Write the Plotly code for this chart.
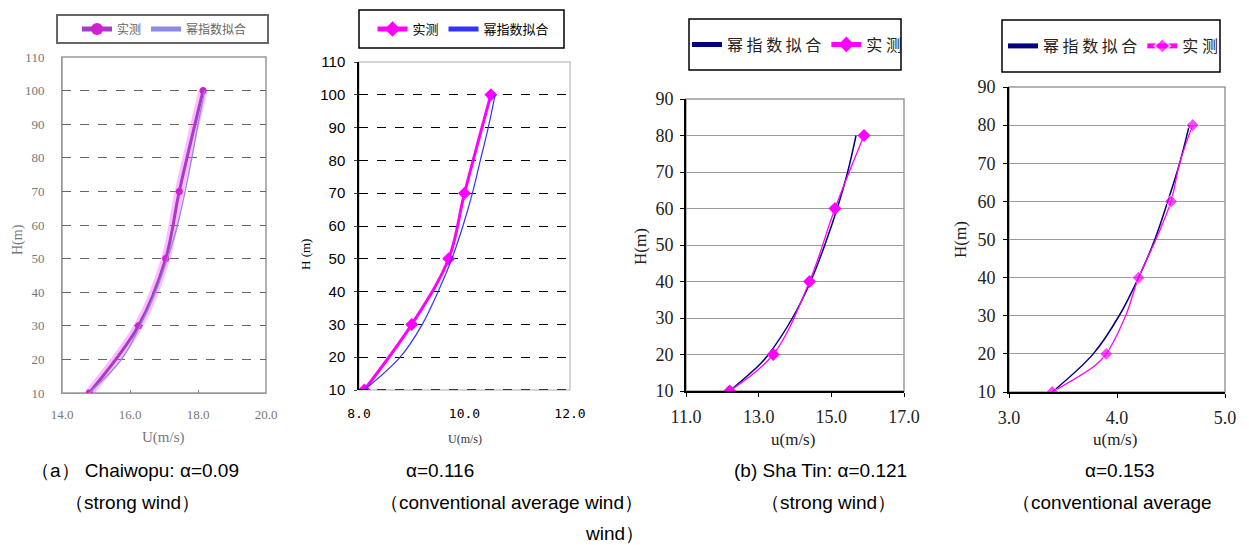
import plotly.graph_objects as go

W, H = 1249, 545

# ---------------- data ----------------
# Panel 1: Chaiwopu, strong wind
p1_h_meas = [10, 30, 50, 70, 100]
p1_u_meas = [14.8, 16.25, 17.05, 17.45, 18.15]
p1_h_fit = [10, 20, 30, 40, 50, 60, 70, 80, 90, 100]
p1_u_fit = [14.8, 15.75, 16.3, 16.75, 17.1, 17.4, 17.62, 17.82, 18.0, 18.2]

# Panel 2: Chaiwopu, conventional average wind
p2_h_meas = [10, 30, 50, 70, 100]
p2_u_meas = [8.1, 9.0, 9.7, 10.0, 10.5]
p2_h_fit = [10, 20, 30, 40, 50, 60, 70, 80, 90, 100]
p2_u_fit = [8.1, 8.78, 9.2, 9.5, 9.76, 9.97, 10.15, 10.3, 10.45, 10.58]

# Panel 3: Sha Tin, strong wind
p3_h_meas = [10, 20, 40, 60, 80]
p3_u_meas = [12.2, 13.4, 14.4, 15.1, 15.9]
p3_h_fit = [10, 17, 20, 30, 40, 50, 60, 70, 80]
p3_u_fit = [12.2, 13.0, 13.27, 13.93, 14.43, 14.82, 15.16, 15.45, 15.68]

# Panel 4: Sha Tin, conventional average wind
p4_h_meas = [10, 17, 20, 30, 40, 50, 60, 70, 80]
p4_u_meas = [3.4, 3.8, 3.9, 4.08, 4.2, 4.36, 4.5, 4.58, 4.7]
p4_mark_h = [10, 20, 40, 60, 80]
p4_h_fit = [10, 20, 30, 40, 50, 60, 70, 80]
p4_u_fit = [3.4, 3.78, 4.02, 4.2, 4.35, 4.47, 4.58, 4.67]

name_meas = "实测"
name_fit = "幂指数拟合"
name_fit_sp = "幂 指 数 拟 合"
name_meas_sp = "实 测"

captions = [
    ("（a） Chaiwopu: α=0.09", 135, 470),
    ("（strong wind）", 132, 502),
    ("α=0.116", 440, 470),
    ("（conventional average wind）", 512, 502),
    ("wind）", 614, 533),
    ("(b) Sha Tin: α=0.121", 820, 470),
    ("（strong wind）", 828, 502),
    ("α=0.153", 1120, 470),
    ("（conventional average", 1112, 502),
]

# ---------------- helpers ----------------
def px(x):
    return x / W

def py(y):
    return 1 - y / H

fig = go.Figure()

# Panel 1
fig.add_trace(go.Scatter(x=p1_u_meas, y=p1_h_meas, xaxis="x", yaxis="y", mode="lines",
                         line=dict(color="rgba(255,60,255,0.35)", width=9, shape="spline"),
                         showlegend=False, hoverinfo="skip"))
fig.add_trace(go.Scatter(x=p1_u_meas, y=p1_h_meas, xaxis="x", yaxis="y", mode="lines+markers",
                         name=name_meas, legend="legend",
                         line=dict(color="#a83cc8", width=3, shape="spline"),
                         marker=dict(symbol="circle", size=7, color="#d020d0")))
fig.add_trace(go.Scatter(x=p1_u_fit, y=p1_h_fit, xaxis="x", yaxis="y", mode="lines",
                         name=name_fit, legend="legend",
                         line=dict(color="#8a8ae8", width=1.3, shape="spline")))

# Panel 2
fig.add_trace(go.Scatter(x=p2_u_meas, y=p2_h_meas, xaxis="x2", yaxis="y2", mode="lines+markers",
                         name=name_meas, legend="legend2",
                         line=dict(color="#ff00ff", width=3, shape="spline"),
                         marker=dict(symbol="diamond", size=10, color="#ff00ff")))
fig.add_trace(go.Scatter(x=p2_u_fit, y=p2_h_fit, xaxis="x2", yaxis="y2", mode="lines",
                         name=name_fit, legend="legend2",
                         line=dict(color="#3333ff", width=1.2, shape="spline")))

# Panel 3
fig.add_trace(go.Scatter(x=p3_u_fit, y=p3_h_fit, xaxis="x3", yaxis="y3", mode="lines",
                         name=name_fit_sp, legend="legend3",
                         line=dict(color="#000080", width=1.5, shape="spline")))
fig.add_trace(go.Scatter(x=p3_u_meas, y=p3_h_meas, xaxis="x3", yaxis="y3", mode="lines+markers",
                         name=name_meas_sp, legend="legend3",
                         line=dict(color="#ff00ff", width=1.3, shape="spline"),
                         marker=dict(symbol="diamond", size=10, color="#ff00ff")))

# Panel 4
fig.add_trace(go.Scatter(x=p4_u_fit, y=p4_h_fit, xaxis="x4", yaxis="y4", mode="lines",
                         name=name_fit_sp, legend="legend4",
                         line=dict(color="#000080", width=1.5, shape="spline")))
p4_sizes = [10 if h in p4_mark_h else 0 for h in p4_h_meas]
fig.add_trace(go.Scatter(x=p4_u_meas, y=p4_h_meas, xaxis="x4", yaxis="y4", mode="lines+markers",
                         name=name_meas_sp, legend="legend4",
                         line=dict(color="#ff00ff", width=1.3, shape="spline"),
                         marker=dict(symbol="diamond", size=p4_sizes, color="#ff00ff")))

# ---------------- axes ----------------
serif = "Liberation Serif"
sans = "Liberation Sans"

def xax(dom, rng, dt, fmt, font, **kw):
    d = dict(domain=[px(dom[0]), px(dom[1])], range=rng, dtick=dt, tick0=rng[0],
             tickformat=fmt, tickfont=font, showgrid=False, zeroline=False,
             fixedrange=True, automargin=False)
    d.update(kw)
    return d

def yax(dom, rng, font, **kw):
    d = dict(domain=[py(dom[1]), py(dom[0])], range=rng, dtick=10, tick0=10,
             tickfont=font, zeroline=False, fixedrange=True, automargin=False)
    d.update(kw)
    return d

f1 = dict(family=serif, size=13, color="#777777")
f2 = dict(family=sans, size=15, color="#000000")
f2x = dict(family="DejaVu Sans Mono", size=13, color="#000000")
f3 = dict(family=serif, size=18, color="#222222")

layout_axes = dict(
    xaxis=xax((62, 266), [14, 20], 2, ".1f", f1, anchor="y", showline=True, linecolor="#999999",
              linewidth=1, ticks="inside", ticklen=3, tickcolor="#888888",
              ticklabelstandoff=9),
    yaxis=yax((57, 393), [10, 110], f1, anchor="x", showgrid=True, gridcolor="#666666",
              griddash="dash", gridwidth=1, showline=True, linecolor="#999999", ticks="",
              ticklabelstandoff=14),
    xaxis2=xax((359, 570), [8, 12], 2, ".1f", f2x, anchor="y2", showline=False, ticks="",
               ticklabelstandoff=14),
    yaxis2=yax((62, 390), [10, 110], f2, anchor="x2", showgrid=True, gridcolor="#000000",
               griddash="dash", gridwidth=1.2, showline=True, linecolor="#000000",
               linewidth=1.5, ticks="outside", ticklen=3, ticklabelstandoff=6),
    xaxis3=xax((686, 904), [11, 17], 2, ".1f", f3, anchor="y3", showline=True,
               linecolor="#000000", linewidth=2, ticks="outside", ticklen=4, tickcolor="#000",
               ticklabelstandoff=4),
    yaxis3=yax((99, 391), [10, 90], f3, anchor="x3", showgrid=True, gridcolor="#9a9a9a",
               gridwidth=1, showline=True, linecolor="#000000", linewidth=2,
               ticks="outside", ticklen=4, tickcolor="#000", ticklabelstandoff=3),
    xaxis4=xax((1009, 1225), [3, 5], 1, ".1f", f3, anchor="y4", showline=True,
               linecolor="#000000", linewidth=2, ticks="outside", ticklen=4, tickcolor="#000",
               ticklabelstandoff=4),
    yaxis4=yax((87, 392), [10, 90], f3, anchor="x4", showgrid=True, gridcolor="#9a9a9a",
               gridwidth=1, showline=True, linecolor="#000000", linewidth=2,
               ticks="outside", ticklen=4, tickcolor="#000", ticklabelstandoff=4),
)

# plot-area borders (grey frames)
shapes = []
for xa, ya, col in [("x", "y", "#999999"), ("x2", "y2", "#c8c8c8"),
                    ("x3", "y3", "#9a9a9a"), ("x4", "y4", "#9a9a9a")]:
    shapes.append(dict(type="rect", xref=xa + " domain", yref=ya + " domain",
                       x0=0, x1=1, y0=0, y1=1, line=dict(color=col, width=1.5),
                       layer="below"))
# dashed bottom line in panel 2
shapes.append(dict(type="line", xref="x2 domain", yref="y2", x0=0, x1=1, y0=10, y1=10,
                   line=dict(color="#000000", width=1.3, dash="dash")))

# legend boxes (pixel boxes of the reference)
legend_boxes = [
    ("legend", (57, 15, 268, 43), "#666666", 2),
    ("legend2", (359, 10, 564, 48), "#000000", 1.5),
    ("legend3", (689, 19, 901, 70), "#000000", 1.5),
    ("legend4", (1002, 20, 1220, 72), "#000000", 1.5),
]
for _, (x0, y0, x1, y1), col, lw in legend_boxes:
    shapes.append(dict(type="rect", xref="paper", yref="paper",
                       x0=px(x0), x1=px(x1), y0=py(y1), y1=py(y0),
                       line=dict(color=col, width=lw), fillcolor="#ffffff", layer="below"))

# ---------------- annotations ----------------
ann = []
def add_text(t, x, y, font, angle=0):
    ann.append(dict(text=t, x=px(x), y=py(y), xref="paper", yref="paper",
                    showarrow=False, xanchor="center", yanchor="middle", font=font,
                    textangle=angle))

add_text("H(m)", 18, 240, dict(family=serif, size=14, color="#777777"), -90)
add_text("U(m/s)", 163, 437, dict(family=serif, size=15, color="#777777"))
add_text("H (m)", 305, 255, dict(family=serif, size=13, color="#000000"), -90)
add_text("U(m/s)", 465, 439, dict(family=serif, size=12, color="#333333"))
add_text("H(m)", 640, 247, dict(family=serif, size=17, color="#222222"), -90)
add_text("u(m/s)", 793, 439, dict(family=serif, size=17, color="#222222"))
add_text("H(m)", 960, 240, dict(family=serif, size=17, color="#222222"), -90)
add_text("u(m/s)", 1115, 439, dict(family=serif, size=17, color="#222222"))

cap_font = dict(family="Liberation Sans", size=19, color="#000000")
for t, x, y in captions:
    add_text(t, x, y, cap_font)

# ---------------- legends ----------------
def leg(box, font):
    x0, y0, x1, y1 = box
    return dict(x=px((x0 + x1) / 2 + 2), y=py((y0 + y1) / 2), xanchor="center",
                yanchor="middle", orientation="h", borderwidth=0,
                bgcolor="rgba(0,0,0,0)", font=font, itemsizing="constant",
                tracegroupgap=0)

layout_legends = dict(
    legend=leg(legend_boxes[0][1], dict(family="Noto Sans CJK SC", size=12, color="#666666")),
    legend2=leg(legend_boxes[1][1], dict(family="Noto Sans CJK SC", size=13, color="#000000")),
    legend3=leg(legend_boxes[2][1], dict(family="Noto Sans CJK SC", size=16, color="#222222")),
    legend4=leg(legend_boxes[3][1], dict(family="Noto Sans CJK SC", size=16, color="#222222")),
)

fig.update_layout(
    width=W, height=H, margin=dict(l=0, r=0, t=0, b=0, pad=0, autoexpand=False),
    paper_bgcolor="#ffffff", plot_bgcolor="#ffffff",
    shapes=shapes, annotations=ann,
    **layout_axes, **layout_legends,
)

fig.write_html("out.html", config=dict(displayModeBar=False))
